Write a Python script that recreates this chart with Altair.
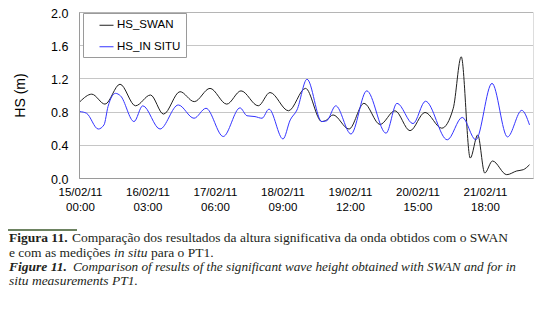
import json
import altair as alt
import pandas as pd

# ---- data (hours since 15/02/11 00:00, HS in m) ----
swan_hours = [0, 4.7, 10.0, 16.0, 22.2, 28.2, 33.4, 40.0, 45.7, 52.0, 58.7, 64.4, 71.3, 76.0,
              83.4, 90.2, 96.7, 98.7, 101.2, 107.6, 113.6, 120.0, 126.0, 132.0, 138.0, 144.7,
              149.3, 152.5, 156.1, 159.1, 161.9, 165.0, 170.7, 174.7, 177.3, 179.8]
swan_values = [0.92, 1.01, 0.89, 1.13, 0.87, 1.00, 0.77, 1.04, 0.92, 1.08, 0.89, 1.05, 0.87, 1.03,
               0.81, 1.08, 0.68, 0.70, 0.76, 0.59, 0.90, 0.645, 0.81, 0.57, 0.79, 0.60,
               0.84, 1.46, 0.24, 0.52, 0.06, 0.205, 0.04, 0.085, 0.10, 0.16]

insitu_hours = [0, 2.6, 7.3, 9.6, 11.2, 14.2, 16.2, 21.6, 25.1, 32.0, 39.3, 45.6, 50.4, 57.3,
                64.0, 66.8, 70.0, 72.8, 75.6, 81.2, 84.1, 86.8, 90.8, 96.7, 98.7, 102.3, 108.4,
                114.7, 122.4, 126.8, 133.2, 138.2, 146.9, 152.9, 158.3, 164.8, 171.0, 176.7, 179.8]
insitu_values = [0.80, 0.78, 0.59, 0.64, 0.86, 1.02, 0.99, 0.68, 0.87, 0.59, 0.88, 0.72, 0.84, 0.50,
                 0.845, 0.75, 0.74, 0.72, 0.83, 0.47, 0.70, 0.82, 1.19, 0.68, 0.69, 0.87, 0.53,
                 1.05, 0.54, 0.90, 0.655, 0.925, 0.46, 0.73, 0.46, 1.14, 0.495, 0.815, 0.64]

series_names = ["HS_SWAN", "HS_IN SITU"]

x_tick_hours = [0, 27, 54, 81, 108, 135, 162]
x_tick_dates = ["15/02/11", "16/02/11", "17/02/11", "18/02/11", "19/02/11", "20/02/11", "21/02/11"]
x_tick_times = ["00:00", "03:00", "06:00", "09:00", "12:00", "15:00", "18:00"]
y_ticks = [0.0, 0.4, 0.8, 1.2, 1.6, 2.0]

cap1_bold = "Figura 11."
cap1_rest = "Comparação dos resultados da altura significativa da onda obtidos com o SWAN"
cap2_a = "e com as medições"
cap2_b = "in situ"
cap2_c = "para o PT1."
cap3_bold = "Figure 11."
cap3_rest = "Comparison of results of the significant wave height obtained with SWAN and for in"
cap4 = "situ measurements PT1."

df = pd.concat([
    pd.DataFrame({"h": swan_hours, "v": swan_values, "s": series_names[0]}),
    pd.DataFrame({"h": insitu_hours, "v": insitu_values, "s": series_names[1]}),
])

hrs = json.dumps(x_tick_hours)
label_expr = (f"[{json.dumps(x_tick_dates)}[indexof({hrs}, datum.value)], "
              f"{json.dumps(x_tick_times)}[indexof({hrs}, datum.value)]]")

SANS = "Liberation Sans"
SERIF = "Liberation Serif"
GRAY = "#9a9a9a"

lines = alt.Chart(df).mark_line(interpolate="monotone", strokeWidth=1).encode(
    x=alt.X("h:Q", scale=alt.Scale(domain=[-0.4, 181.2], nice=False, zero=False),
            axis=alt.Axis(values=x_tick_hours, labelExpr=label_expr, title=None, grid=False,
                          ticks=False, domainColor=GRAY, labelFont=SANS, labelFontSize=11.5,
                          labelColor="black", labelPadding=8.5, labelLineHeight=14.5,
                          labelAngle=0, labelFlush=False, labelOverlap=False, labelBound=False)),
    y=alt.Y("v:Q", scale=alt.Scale(domain=[0, 2], nice=False),
            axis=alt.Axis(values=y_ticks, format=".1f", title="HS (m)", grid=True,
                          gridColor="#8c8c8c", gridDash=[1, 1], ticks=False, domainColor=GRAY,
                          labelFont=SANS, labelFontSize=12.5, labelColor="black", labelPadding=11,
                          labelOffset=1, labelFlush=False,
                          titleFont=SANS, titleFontSize=14, titleFontWeight="normal",
                          titleColor="black", titleX=-52, titleY=83, titleAlign="center",
                          titleBaseline="bottom", titleAngle=270)),
    color=alt.Color("s:N", scale=alt.Scale(domain=series_names, range=["#202020", "#3535ff"]),
                    sort=series_names,
                    legend=alt.Legend(title=None, orient="none", legendX=4, legendY=1,
                                      strokeColor=GRAY, fillColor="white", padding=4.75,
                                      symbolType="stroke", symbolSize=196, symbolStrokeWidth=1,
                                      symbolOffset=11.25, labelOffset=3, rowPadding=8.5,
                                      labelFont=SANS, labelFontSize=11.5, labelColor="black")),
)

one = pd.DataFrame({"a": [0]})

def txt(s, x, y, weight="normal", style="normal", size=13.5):
    return alt.Chart(one).mark_text(text=s, font=SERIF, fontSize=size, fontWeight=weight,
                                    fontStyle=style, align="left", baseline="alphabetic",
                                    color="#231f20").encode(x=alt.value(x), y=alt.value(y))

rule = alt.Chart(one).mark_rule(color="#3d5a2c", strokeWidth=1.5).encode(
    x=alt.value(-72), x2=alt.value(-2), y=alt.value(218))

captions = [
    txt(cap1_bold, -70, 230, weight="bold"),
    txt(cap1_rest, -7, 230),
    txt(cap2_a, -70, 244.5),
    txt(cap2_b, 35, 244.5, style="italic"),
    txt(cap2_c, 72, 244.5),
    txt(cap3_bold, -70, 258.5, weight="bold", style="italic"),
    txt(cap3_rest, -6, 258.5, style="italic", size=13.2),
    txt(cap4, -70, 272.5, style="italic"),
]

chart = alt.layer(lines, rule, *captions).properties(
    width=454, height=166,
    padding={"left": 71, "top": 4, "right": 15, "bottom": 115},
    autosize=alt.AutoSizeParams(type="none"),
).configure_view(stroke=GRAY, strokeWidth=1).configure(background="white")

chart.save("out.html", embed_options={"renderer": "svg", "actions": False})
